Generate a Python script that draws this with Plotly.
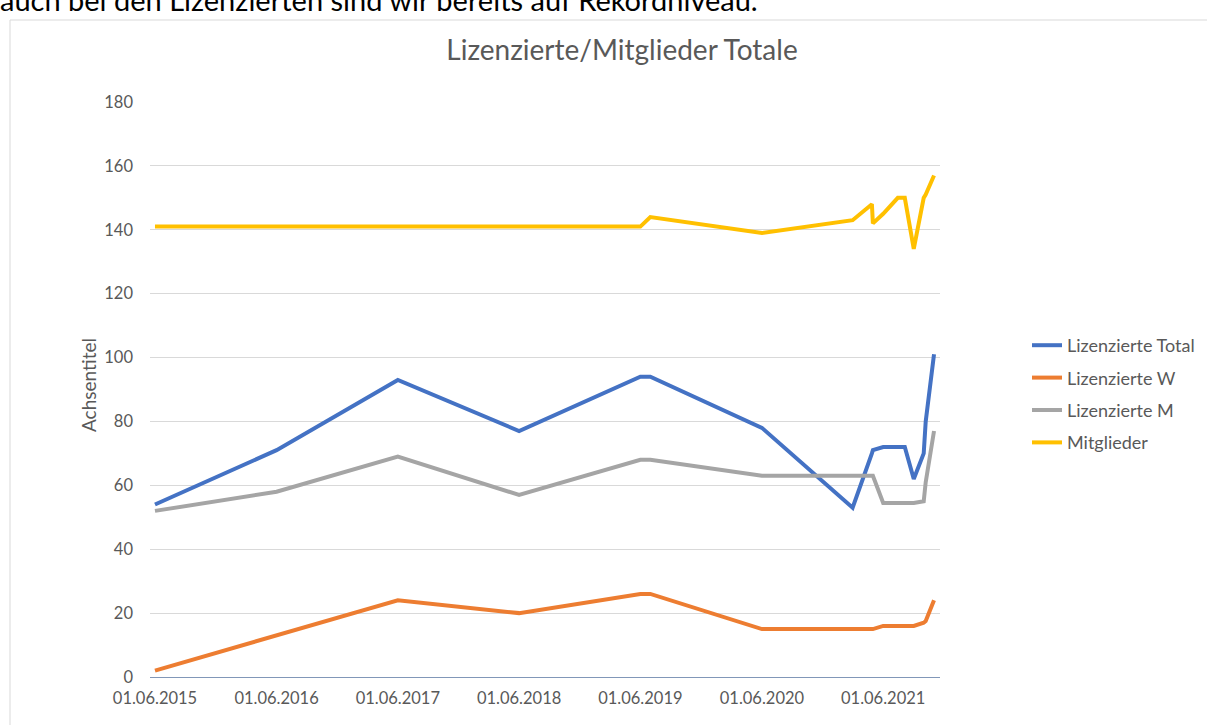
import plotly.graph_objects as go

dates = ["2015-06-01", "2016-06-01", "2017-06-01", "2018-06-01", "2019-06-01",
         "2019-07-01", "2020-06-01", "2021-03-01", "2021-04-28", "2021-05-01",
         "2021-06-01", "2021-07-15", "2021-08-05", "2021-09-01", "2021-10-01",
         "2021-10-07", "2021-11-01"]
lizenzierte_total = [54, 71, 93, 77, 94, 94, 78, 53, 70, 71, 72, 72, 72, 62, 70, 80, 101]
lizenzierte_w = [2, 13, 24, 20, 26, 26, 15, 15, 15, 15, 16, 16, 16, 16, 17, 17.5, 24]
lizenzierte_m = [52, 58, 69, 57, 68, 68, 63, 63, 63, 63, 54.5, 54.5, 54.5, 54.5, 55, 61, 77]
mitglieder = [141, 141, 141, 141, 141, 144, 139, 143, 148, 142, 145, 150, 150, 134, 150, 151, 157]

tick_dates = ["2015-06-01", "2016-06-01", "2017-06-01", "2018-06-01",
              "2019-06-01", "2020-06-01", "2021-06-01"]
tick_labels = ["01.06.2015", "01.06.2016", "01.06.2017", "01.06.2018",
               "01.06.2019", "01.06.2020", "01.06.2021"]

series = [
    ("Lizenzierte Total", lizenzierte_total, "#4472C4"),
    ("Lizenzierte W", lizenzierte_w, "#ED7D31"),
    ("Lizenzierte M", lizenzierte_m, "#A5A5A5"),
    ("Mitglieder", mitglieder, "#FFC000"),
]

FONT = "Lato, Open Sans, sans-serif"
GREY = "#595959"

fig = go.Figure()
for name, vals, col in series:
    fig.add_trace(go.Scatter(
        x=dates, y=vals, mode="lines", name=name, legendgroup=name,
        line=dict(color=col, width=4, shape="linear"),
    ))

# pixel helpers (plot area 150..940 x, 102..677 y)
L, R, T, B = 150, 940, 102, 677
W, H = 1207, 725
def px(x):
    return (x - L) / (R - L)
def py(y):
    return (B - y) / (B - T)

fig.update_layout(
    width=W, height=H,
    margin=dict(l=L, r=W - R, t=T, b=H - B, autoexpand=False),
    paper_bgcolor="white", plot_bgcolor="white",
    font=dict(family=FONT, color=GREY, size=16),
    showlegend=True,
    legend=dict(
        x=px(1027), y=py(394), xanchor="left", yanchor="middle",
        font=dict(size=18, color=GREY, family=FONT),
        tracegroupgap=6, bgcolor="rgba(0,0,0,0)",
    ),
    xaxis=dict(
        type="date",
        range=["2015-05-17", "2021-11-19"],
        tickvals=tick_dates, ticktext=tick_labels,
        showgrid=False, zeroline=False,
        showline=False, ticks="",
        tickfont=dict(size=16.5, color=GREY, family=FONT),
        ticklabelstandoff=9,
    ),
    yaxis=dict(
        range=[0, 180], dtick=20, tick0=0,
        showgrid=True, gridcolor="#D9D9D9", gridwidth=1,
        zeroline=True, zerolinecolor="#8197B8", zerolinewidth=1.3,
        showline=False, ticks="",
        tickfont=dict(size=16.5, color=GREY, family=FONT),
        ticklabelstandoff=16,
    ),
    title=dict(
        text="Lizenzierte/Mitglieder Totale",
        x=622 / W, xanchor="center", xref="container",
        y=1 - 50 / H, yanchor="middle", yref="container",
        font=dict(size=28, color=GREY, family=FONT),
    ),
    shapes=[dict(
        type="rect", xref="paper", yref="paper",
        x0=px(10), x1=px(1215), y0=py(735), y1=py(20),
        line=dict(color="#D9D9D9", width=1), fillcolor="rgba(0,0,0,0)",
        layer="below",
    )],
    annotations=[
        dict(
            text="auch bei den Lizenzierten sind wir bereits auf Rekordniveau.",
            xref="paper", yref="paper", x=px(-2), y=py(19),
            xanchor="left", yanchor="bottom", showarrow=False,
            font=dict(size=29, color="#000000", family=FONT),
        ),
        dict(
            text="Achsentitel", textangle=-90,
            xref="paper", yref="paper", x=px(88), y=py(385),
            xanchor="center", yanchor="middle", showarrow=False,
            font=dict(size=19, color=GREY, family=FONT),
        ),
    ],
)

fig.write_html(
    "out.html",
    config={"displayModeBar": False},
    post_script="document.body.style.margin='0';document.body.style.overflow='hidden';",
)
